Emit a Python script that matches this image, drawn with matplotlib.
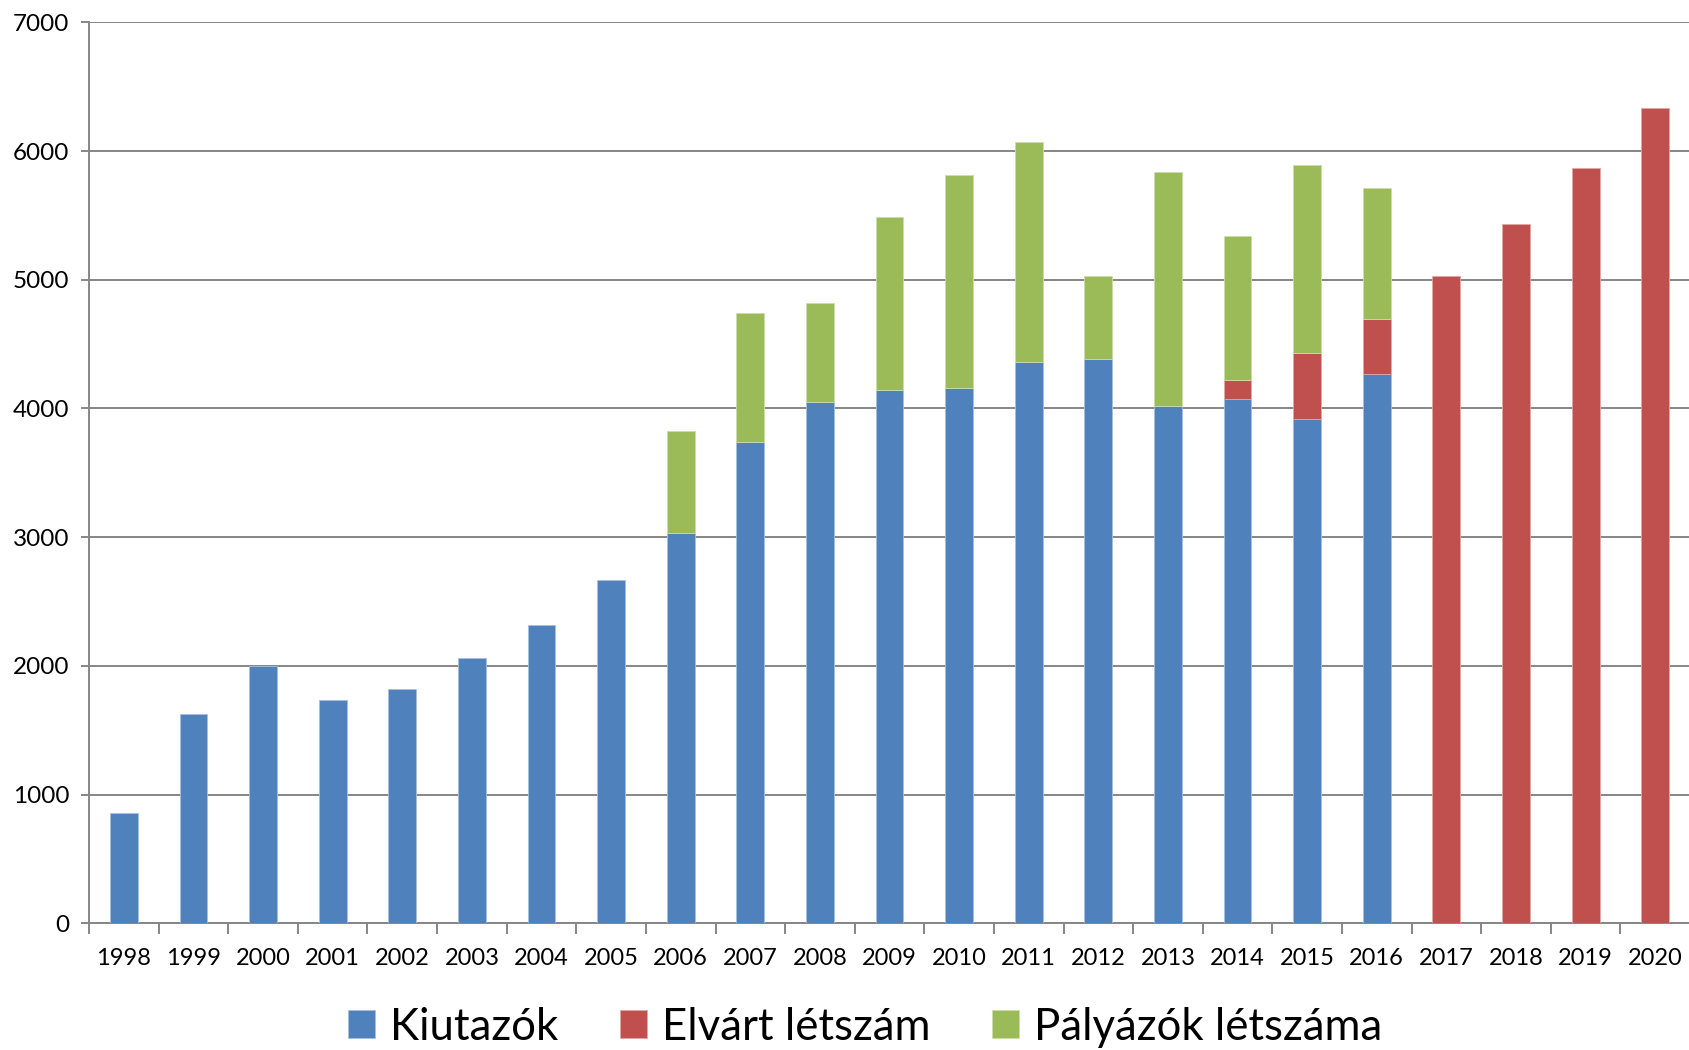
import matplotlib.pyplot as plt
import numpy as np

years = [str(y) for y in range(1998, 2021)]

# values (stacked segments)
kiutazok = [855, 1625, 2000, 1735, 1825, 2060, 2320, 2670, 3030, 3740, 4050,
            4140, 4160, 4360, 4385, 4020, 4075, 3915, 4265, 0, 0, 0, 0]
elvart = [0, 0, 0, 0, 0, 0, 0, 0, 0, 0, 0,
          0, 0, 0, 0, 0, 150, 517, 431, 5027, 5430, 5865, 6333]
palyazok = [0, 0, 0, 0, 0, 0, 0, 0, 795, 1003, 768,
            1347, 1657, 1710, 648, 1817, 1112, 1462, 1016, 0, 0, 0, 0]

blue = '#4F81BD'
red = '#C0504D'
green = '#9BBB59'
grid_c = '#868686'

plt.rcParams['font.family'] = ['Lato', 'DejaVu Sans']

fig = plt.figure(figsize=(16.9, 10.5), dpi=100)
ax = fig.add_axes([0.0527, 0.1205, 0.9473, 0.8583])

x = np.arange(len(years))
w = 0.4
kiu = np.array(kiutazok, dtype=float)
elv = np.array(elvart, dtype=float)
pal = np.array(palyazok, dtype=float)


def nz(a):
    # empty segments drawn as nothing (no stray edge line)
    return np.where(a > 0, a, np.nan)


ax.bar(x, nz(kiu), w, color=blue, edgecolor='#A7C0DE', linewidth=0.6, label='Kiutazók', zorder=3)
ax.bar(x, nz(elv), w, bottom=kiu, color=red, edgecolor='#DFA7A6', linewidth=0.6, label='Elvárt létszám', zorder=3)
ax.bar(x, nz(pal), w, bottom=kiu + elv, color=green, edgecolor='#CDDDAC', linewidth=0.6, label='Pályázók létszáma', zorder=3)

ax.set_xlim(-0.5, len(years) - 0.5)
ax.set_ylim(0, 7000)

ax.set_yticks(np.arange(0, 7001, 1000))
ax.yaxis.grid(True, color=grid_c, linewidth=1.4, zorder=0)
ax.tick_params(axis='y', which='major', length=6, width=1.4, color=grid_c,
               labelsize=17.5, pad=8)

# category separators as ticks, labels centred in slots
ax.set_xticks(np.arange(-0.5, len(years), 1.0))
ax.set_xticklabels([])
ax.set_xticks(x, minor=True)
ax.set_xticklabels(years, minor=True)
ax.tick_params(axis='x', which='major', length=8, width=1.4, color=grid_c)
ax.tick_params(axis='x', which='minor', length=0, labelsize=17, pad=18)

for s in ['top', 'right']:
    ax.spines[s].set_visible(False)
for s in ['left', 'bottom']:
    ax.spines[s].set_color(grid_c)
    ax.spines[s].set_linewidth(1.4)

fig.legend(loc='center', bbox_to_anchor=(865 / 1690, 1 - 1027 / 1050), ncol=3,
           frameon=False, fontsize=31.5, handlelength=0.62, handleheight=0.62,
           handletextpad=0.35, columnspacing=1.4, borderpad=0)

fig.savefig('out.png', dpi=100)
